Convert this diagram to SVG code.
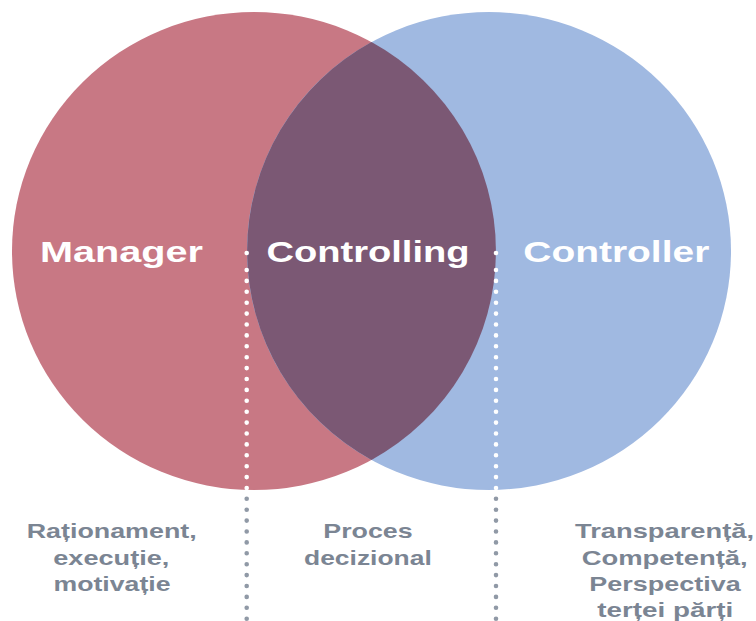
<svg xmlns="http://www.w3.org/2000/svg" width="756" height="621" viewBox="0 0 756 621">
  <style>
    .title { font-family: "Liberation Sans", Arial, sans-serif; font-weight: bold; font-size: 29.5px; fill: #ffffff; text-anchor: middle; }
    .note { font-family: "Liberation Sans", Arial, sans-serif; font-weight: bold; font-size: 20.5px; fill: #7b8593; text-anchor: middle; }
    .dots-in { stroke: #ffffff; stroke-width: 4.6; stroke-linecap: round; stroke-dasharray: 0 10.9; fill: none; }
    .dots-out { stroke: #9099a6; stroke-width: 4.6; stroke-linecap: round; stroke-dasharray: 0 10.9; fill: none; }
  </style>
  <rect width="756" height="621" fill="#ffffff"/>

  <!-- Manager set -->
  <g id="manager">
    <ellipse cx="254" cy="251" rx="242" ry="239" fill="#c87884"/>
  </g>

  <!-- Controller set -->
  <g id="controller">
    <ellipse cx="489" cy="251" rx="242" ry="239" fill="#a0b9e1"/>
  </g>

  <!-- Overlap: Controlling -->
  <g id="controlling">
    <path d="M371.5,42.1 A242,239 0 0 1 371.5,459.9 A242,239 0 0 1 371.5,42.1 Z" fill="#7b5874"/>
  </g>

  <!-- Dotted dividers -->
  <g id="connectors">
    <circle cx="246.7" cy="253" r="2.3" fill="#ffffff"/>
    <circle cx="496" cy="253" r="2.3" fill="#ffffff"/>
    <line class="dots-in" x1="246.7" y1="270" x2="246.7" y2="489"/>
    <line class="dots-out" x1="246.7" y1="498.8" x2="246.7" y2="620"/>
    <line class="dots-in" x1="496" y1="270" x2="496" y2="489"/>
    <line class="dots-out" x1="496" y1="498.8" x2="496" y2="620"/>
  </g>

  <!-- Set labels -->
  <g id="label-manager">
    <text class="title" x="121.5" y="262" textLength="163" lengthAdjust="spacingAndGlyphs">Manager</text>
  </g>
  <g id="label-controlling">
    <text class="title" x="368" y="262" textLength="203" lengthAdjust="spacingAndGlyphs">Controlling</text>
  </g>
  <g id="label-controller">
    <text class="title" x="616.3" y="262" textLength="186" lengthAdjust="spacingAndGlyphs">Controller</text>
  </g>

  <!-- Descriptions -->
  <g id="desc-manager">
    <text class="note" x="111.7" y="538.3" textLength="170" lengthAdjust="spacingAndGlyphs">Raționament,</text>
    <text class="note" x="111.3" y="565" textLength="116" lengthAdjust="spacingAndGlyphs">execuție,</text>
    <text class="note" x="112" y="590.7" textLength="117" lengthAdjust="spacingAndGlyphs">motivație</text>
  </g>
  <g id="desc-controlling">
    <text class="note" x="368" y="538.3" textLength="89.4" lengthAdjust="spacingAndGlyphs">Proces</text>
    <text class="note" x="367.9" y="565" textLength="127.7" lengthAdjust="spacingAndGlyphs">decizional</text>
  </g>
  <g id="desc-controller">
    <text class="note" x="664.5" y="538.3" textLength="179" lengthAdjust="spacingAndGlyphs">Transparență,</text>
    <text class="note" x="664.7" y="565" textLength="166" lengthAdjust="spacingAndGlyphs">Competență,</text>
    <text class="note" x="665" y="590.7" textLength="151.3" lengthAdjust="spacingAndGlyphs">Perspectiva</text>
    <text class="note" x="665.3" y="616.7" textLength="136" lengthAdjust="spacingAndGlyphs">terței părți</text>
  </g>
</svg>
